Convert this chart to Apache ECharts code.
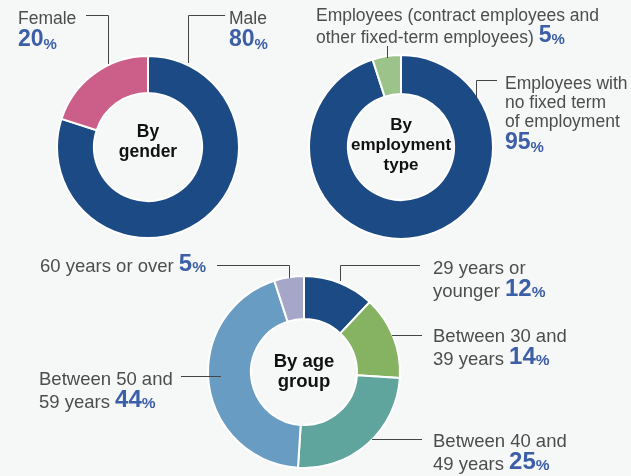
<!DOCTYPE html>
<html><head><meta charset="utf-8">
<script src="https://cdn.jsdelivr.net/npm/echarts@6/dist/echarts.min.js"></script>
<style>html,body{margin:0;padding:0;background:#f6f7f7}#c{width:631px;height:476px}</style>
</head><body><div id="c"></div>
<script>
// ---- data ----
const genderCats = ['Male', 'Female'];
const genderVals = [80, 20];
const genderColors = ['#1b4a84', '#cb5f8a'];

const empCats = ['Employees with\nno fixed term\nof employment', 'Employees (contract employees and\nother fixed-term employees)'];
const empVals = [95, 5];
const empColors = ['#1b4a84', '#9cc48a'];

const ageCats = ['29 years or\nyounger', 'Between 30 and\n39 years', 'Between 40 and\n49 years', 'Between 50 and\n59 years', '60 years or over'];
const ageVals = [12, 14, 25, 44, 5];
const ageColors = ['#1b4a84', '#86b362', '#5fa59d', '#699cc2', '#a6a6c8'];

const centerTitles = ['By\ngender', 'By\nemployment\ntype', 'By age\ngroup'];

// ---- layout ----
const FONT = '"Liberation Sans", Arial, sans-serif';
const BLUE = '#3d5fa8';
function makeRich(ts, tlh, ns, nlh, ps) {
  return {
    t: { fontSize: ts, color: '#4d4d4d', fontFamily: FONT, lineHeight: tlh, verticalAlign: 'bottom' },
    n: { fontSize: ns, color: BLUE, fontFamily: FONT, fontWeight: 'bold', lineHeight: tlh + 3, verticalAlign: 'middle' },
    p: { fontSize: ps, color: BLUE, fontFamily: FONT, fontWeight: 'bold', lineHeight: tlh + 3, verticalAlign: 'bottom' },
    N: { fontSize: ns, color: BLUE, fontFamily: FONT, fontWeight: 'bold', lineHeight: nlh, verticalAlign: 'middle' },
    P: { fontSize: ps, color: BLUE, fontFamily: FONT, fontWeight: 'bold', lineHeight: nlh, verticalAlign: 'bottom' }
  };
}
const richTop = makeRich(17.5, 19, 23, 24, 15);
const richAge = makeRich(18.5, 20, 24, 24, 15.5);

function fmt(newLineFlags) {
  return function (p) {
    const lines = p.name.split('\n').map(s => '{t|' + s + '}');
    const nl = newLineFlags[p.dataIndex];
    if (nl) lines.push('{N|' + p.value + '}{P|%}');
    else lines[lines.length - 1] += '{t| }{n|' + p.value + '}{p|%}';
    return lines.join('\n');
  };
}

function makePie(cats, vals, colors, center, radius, labelPos, newLineFlags, rich) {
  return {
    type: 'pie',
    center: center,
    radius: radius,
    startAngle: 90,
    clockwise: true,
    avoidLabelOverlap: false,
    silent: true,
    itemStyle: { borderColor: '#ffffff', borderWidth: 2 },
    label: { show: true, formatter: fmt(newLineFlags), rich: rich },
    labelLine: { show: false },
    labelLayout: function (params) {
      const lp = labelPos[params.dataIndex];
      return { x: lp[0], y: lp[1], align: 'left', verticalAlign: 'top' };
    },
    data: cats.map((c, i) => ({ name: c, value: vals[i], itemStyle: { color: colors[i] } }))
  };
}

const pies = [
  makePie(genderCats, genderVals, genderColors, [148, 147], [54, 91], [[229, 9], [18, 9]], [true, true], richTop),
  makePie(empCats, empVals, empColors, [401, 147], [53, 92], [[505, 74], [316, 6]], [true, false], richTop),
  makePie(ageCats, ageVals, ageColors, [304, 372], [53, 96], [[433, 258], [433, 326], [433, 431], [39, 369], [40, 253]], [false, false, false, false, false], richAge)
];

const titleCenters = [[148, 142], [401, 145], [304, 372]];
const titleSizes = [17.5, 17, 18.5];
const titles = centerTitles.map((t, i) => ({
  text: t,
  left: titleCenters[i][0],
  top: titleCenters[i][1],
  textAlign: 'center',
  textVerticalAlign: 'middle',
  padding: 0,
  textStyle: { fontSize: titleSizes[i], fontWeight: 'bold', color: '#111', fontFamily: FONT, lineHeight: 20 }
}));

const leaders = [
  [[86, 15.5], [108.5, 15.5], [108.5, 64]],
  [[225, 15.5], [188.5, 15.5], [188.5, 63]],
  [[387.5, 46], [387.5, 58]],
  [[497, 80.5], [476.5, 80.5], [476.5, 97]],
  [[217, 265.5], [289.5, 265.5], [289.5, 278]],
  [[420, 265.5], [340.5, 265.5], [340.5, 281]],
  [[392, 335.5], [422, 335.5]],
  [[372, 439.5], [422, 439.5]],
  [[181, 376.5], [221, 376.5]]
];

const chart = echarts.init(document.getElementById('c'), null, { renderer: 'canvas' });
chart.setOption({
  backgroundColor: '#f6f7f7',
  animation: false,
  title: titles,
  series: pies,
  graphic: leaders.map(pts => ({
    type: 'polyline', z: 100, silent: true,
    shape: { points: pts },
    style: { stroke: '#444', lineWidth: 1, fill: null }
  }))
});
</script></body></html>
